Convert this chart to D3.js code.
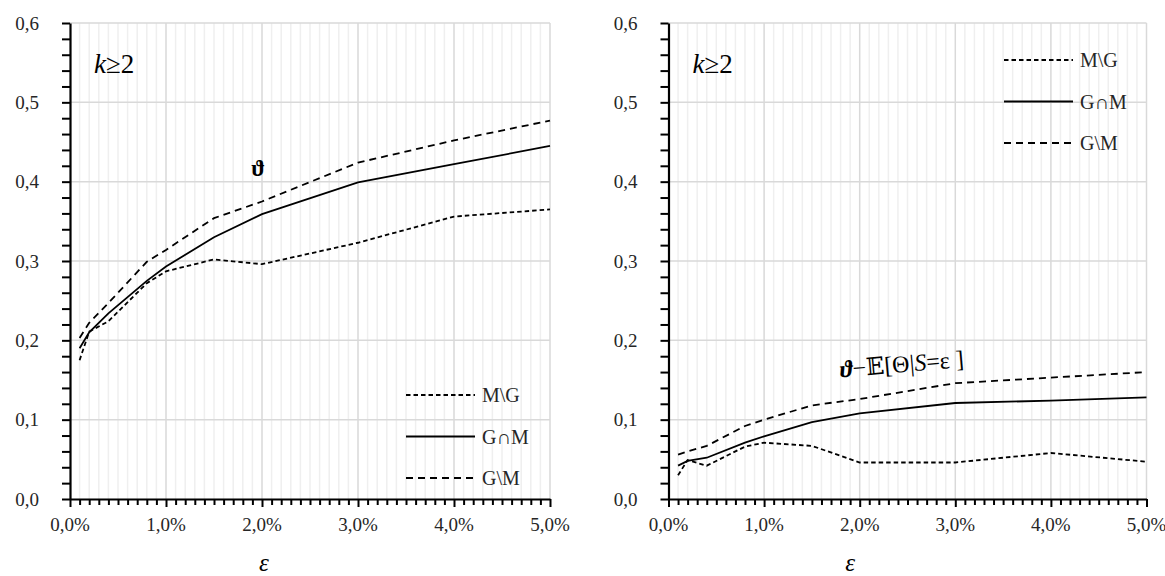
<!DOCTYPE html>
<html>
<head>
<meta charset="utf-8">
<script src="https://cdn.jsdelivr.net/npm/d3@7"></script>
<style>
  body { margin: 0; background: #fff; }
  svg text { font-family: 'Liberation Serif', 'DejaVu Serif', serif; }
</style>
</head>
<body>
<svg id="chart" width="1165" height="576"></svg>
<script>
// ε in percent
const eps = [0.1, 0.2, 0.4, 0.8, 1.0, 1.5, 2.0, 3.0, 4.0, 5.0];

// Left panel: ϑ
const thetaMnotG = [0.175, 0.211, 0.224, 0.272, 0.287, 0.302, 0.296, 0.323, 0.356, 0.365];
const thetaGandM = [0.190, 0.210, 0.234, 0.275, 0.293, 0.330, 0.359, 0.399, 0.422, 0.445];
const thetaGnotM = [0.203, 0.222, 0.247, 0.299, 0.314, 0.354, 0.375, 0.424, 0.452, 0.477];

// Right panel: ϑ − E[Θ|S=ε]
const diffMnotG = [0.030, 0.049, 0.042, 0.066, 0.071, 0.067, 0.046, 0.046, 0.058, 0.047];
const diffGandM = [0.042, 0.048, 0.052, 0.071, 0.079, 0.097, 0.108, 0.121, 0.124, 0.128];
const diffGnotM = [0.056, 0.060, 0.067, 0.092, 0.100, 0.118, 0.126, 0.146, 0.153, 0.160];

const seriesNames = ["M\\G", "G\u2229M", "G\\M"];
const seriesDash = ["4.5,3", null, "7,5"];

const xTicks = [0, 1, 2, 3, 4, 5];
const yTicks = [0, 0.1, 0.2, 0.3, 0.4, 0.5, 0.6];

const SERIF = "'Liberation Serif', 'DejaVu Serif', serif";
const TEXT = "#262626";

const svg = d3.select("#chart");
const fmtY = v => d3.format(".1f")(v).replace(".", ",");
const fmtX = v => d3.format(".1f")(v).replace(".", ",") + "%";

function panel(left, width, data, legend, titleX) {
  const top = 23, height = 476;
  const x = d3.scaleLinear().domain([0, 5]).range([left, left + width]);
  const y = d3.scaleLinear().domain([0, 0.6]).range([top + height, top]);
  const g = svg.append("g");

  // minor vertical grid every 0.1%
  g.append("g").selectAll("line").data(d3.range(1, 50).filter(i => i % 10 !== 0).map(i => i / 10))
    .join("line")
    .attr("x1", d => x(d)).attr("x2", d => x(d))
    .attr("y1", y(0)).attr("y2", y(0.6))
    .attr("stroke", "#efefef").attr("stroke-width", 1.5);

  // major grid
  g.append("g").selectAll("line").data(xTicks.slice(1)).join("line")
    .attr("x1", d => x(d)).attr("x2", d => x(d))
    .attr("y1", y(0)).attr("y2", y(0.6))
    .attr("stroke", "#d9d9d9").attr("stroke-width", 1.5);
  g.append("g").selectAll("line").data(yTicks.slice(1)).join("line")
    .attr("x1", x(0)).attr("x2", x(5))
    .attr("y1", d => y(d)).attr("y2", d => y(d))
    .attr("stroke", "#d9d9d9").attr("stroke-width", 1.5);

  // y axis
  const yAxis = d3.axisLeft(y).tickValues(d3.range(0, 31).map(i => i * 0.02))
    .tickFormat("").tickSizeInner(8).tickSizeOuter(0);
  const ya = g.append("g").attr("transform", `translate(${x(0)},0)`).call(yAxis);
  ya.select(".domain").attr("stroke", "#000").attr("stroke-width", 2.2);
  ya.selectAll(".tick line").attr("stroke", "#000").attr("stroke-width", 2);

  g.append("g").selectAll("text").data(yTicks).join("text")
    .attr("x", x(0) - 31).attr("y", d => y(d))
    .attr("text-anchor", "end").attr("dominant-baseline", "central")
    .style("font-family", SERIF).attr("fill", TEXT)
    .attr("font-size", 19).text(fmtY);

  // x axis
  const xAxis = d3.axisBottom(x).tickValues(d3.range(0, 51).map(i => i / 10))
    .tickFormat("").tickSizeInner(6).tickSizeOuter(0);
  const xa = g.append("g").attr("transform", `translate(0,${y(0)})`).call(xAxis);
  xa.select(".domain").attr("stroke", "#000").attr("stroke-width", 2.2);
  xa.selectAll(".tick line").attr("stroke", "#000").attr("stroke-width", 2)
    .attr("y2", d => (Math.abs(d - Math.round(d)) < 1e-9 ? 8 : 6));

  g.append("g").selectAll("text").data(xTicks).join("text")
    .attr("x", d => x(d)).attr("y", y(0) + 25)
    .attr("text-anchor", "middle").attr("dominant-baseline", "central")
    .style("font-family", SERIF).attr("fill", TEXT)
    .attr("font-size", 19).text(fmtX);

  // axis title ε
  g.append("text").attr("x", x(titleX)).attr("y", 562)
    .attr("text-anchor", "middle").attr("dominant-baseline", "central")
    .style("font-family", SERIF).attr("fill", "#000")
    .attr("font-size", 25).attr("font-style", "italic").text("\u03b5");

  // series
  const line = d3.line().x((d, i) => x(eps[i])).y(d => y(d));
  data.forEach((vals, k) => {
    g.append("path").datum(vals).attr("d", line)
      .attr("fill", "none").attr("stroke", "#000").attr("stroke-width", 1.8)
      .attr("stroke-dasharray", seriesDash[k]);
  });

  // legend
  seriesNames.forEach((name, k) => {
    const ly = legend.y + k * 41.5;
    g.append("line").attr("x1", legend.x).attr("x2", legend.x + 69)
      .attr("y1", ly).attr("y2", ly)
      .attr("stroke", "#000").attr("stroke-width", 1.8)
      .attr("stroke-dasharray", seriesDash[k]);
    g.append("text").attr("x", legend.x + 76).attr("y", ly)
      .attr("dominant-baseline", "central")
      .style("font-family", SERIF).attr("fill", TEXT)
      .attr("font-size", 20).text(name);
  });

  // k ≥ 2
  const kt = g.append("text").attr("x", x(0) + 24).attr("y", 64)
    .attr("dominant-baseline", "central")
    .style("font-family", SERIF).attr("fill", "#000").attr("font-size", 27);
  kt.append("tspan").attr("font-style", "italic").text("k");
  kt.append("tspan").text("\u22652");

  return { x, y, g };
}

const L = panel(70, 480, [thetaMnotG, thetaGandM, thetaGnotM], { x: 406, y: 395 }, 2.02);
const R = panel(668.5, 478, [diffMnotG, diffGandM, diffGnotM], { x: 1004, y: 60 }, 1.9);

// ϑ label on the left panel
L.g.append("text").attr("x", L.x(1.96)).attr("y", 168)
  .attr("text-anchor", "middle").attr("dominant-baseline", "central")
  .style("font-family", SERIF).attr("fill", "#000")
  .attr("font-size", 23).attr("font-weight", "bold").text("\u03d1");

// ϑ − E[Θ|S=ε] label on the right panel
const ann = R.g.append("text")
  .attr("transform", `translate(${R.x(1.8)},${R.y(0.153)}) rotate(-5)`)
  .style("font-family", SERIF).attr("fill", "#000")
  .attr("font-size", 24);
ann.append("tspan").attr("font-weight", "bold").attr("font-style", "italic").text("\u03d1");
ann.append("tspan").text("\u2212");
ann.append("tspan").style("font-family", "'DejaVu Serif', 'DejaVu Sans', serif").text("\ud835\udd3c");
ann.append("tspan").text("[\u0398|");
ann.append("tspan").attr("font-style", "italic").text("S");
ann.append("tspan").text("=\u03b5 ]");
</script>
</body>
</html>
